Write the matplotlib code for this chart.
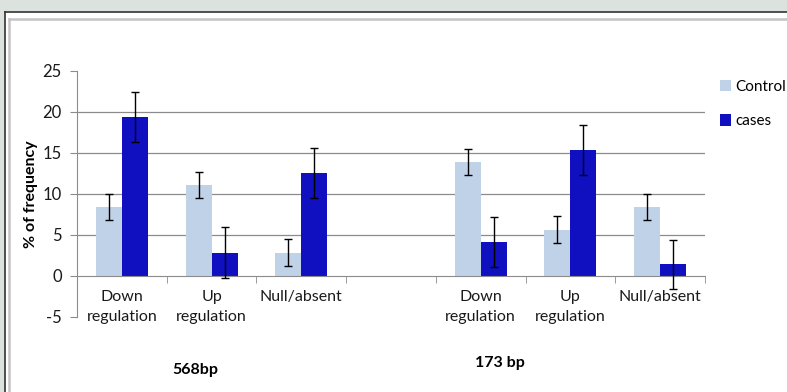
import numpy as np
import matplotlib.pyplot as plt
from matplotlib.patches import Rectangle
from matplotlib.lines import Line2D

plt.rcParams['font.family'] = ['Lato', 'DejaVu Sans']
plt.rcParams['axes.unicode_minus'] = False

# categories (slot 3 left empty between the two fragments)
categories = ["Down\nregulation", "Up\nregulation", "Null/absent", "",
              "Down\nregulation", "Up\nregulation", "Null/absent"]
control = [8.4, 11.1, 2.8, np.nan, 13.9, 5.6, 8.4]
control_err = [1.6, 1.6, 1.65, np.nan, 1.6, 1.65, 1.6]
cases = [19.4, 2.8, 12.5, np.nan, 4.1, 15.3, 1.4]
cases_err = [3.05, 3.1, 3.05, np.nan, 3.05, 3.05, 3.0]
group_labels = ["568bp", "173 bp"]

W, H = 787, 392
fig = plt.figure(figsize=(W / 100, H / 100), dpi=100)
fig.patch.set_facecolor("#dce3df")

# white panel with frame lines on top/left
fig.add_artist(Rectangle((5 / W, 0), 1, 1 - 12 / H, transform=fig.transFigure,
                         facecolor="white", edgecolor="none", zorder=0))
fig.add_artist(Line2D([5 / W, 1], [1 - 12 / H, 1 - 12 / H], color="#333333", lw=1.2, transform=fig.transFigure))
fig.add_artist(Line2D([5 / W, 5 / W], [0, 1 - 12 / H], color="#333333", lw=1.2, transform=fig.transFigure))
fig.add_artist(Line2D([9 / W, 1], [1 - 18.5 / H, 1 - 18.5 / H], color="#c4c4c4", lw=1.8, transform=fig.transFigure))
fig.add_artist(Line2D([9 / W, 9 / W], [0, 1 - 18.5 / H], color="#c4c4c4", lw=1.8, transform=fig.transFigure))

ax = fig.add_axes([77 / W, 1 - 316.7 / H, 628 / W, 246 / H])
ax.set_facecolor("none")

x = np.arange(len(categories))
w = 0.29
ax.bar(x - w / 2, control, w, color="#c0d2e8", label="Control", zorder=2)
ax.bar(x + w / 2, cases, w, color="#1010c0", label="cases", zorder=2)
ax.errorbar(x - w / 2, control, yerr=control_err, fmt="none", ecolor="black",
            elinewidth=1, capsize=3, capthick=1, zorder=3)
ax.errorbar(x + w / 2, cases, yerr=cases_err, fmt="none", ecolor="black",
            elinewidth=1, capsize=3, capthick=1, zorder=3)

ax.set_xlim(-0.5, len(categories) - 0.5)
ax.set_ylim(-5, 25)
ax.set_yticks([-5, 0, 5, 10, 15, 20, 25])
for yv in [5, 10, 15, 20]:
    ax.axhline(yv, color="#8c8c8c", lw=0.9, zorder=1)

for s in ["top", "right"]:
    ax.spines[s].set_visible(False)
ax.spines["left"].set_color("#8c8c8c")
ax.spines["bottom"].set_color("#8c8c8c")
ax.spines["bottom"].set_position(("data", 0))

ax.set_xticks(x)
ax.set_xticklabels(categories, fontsize=11.5, color="#1a1a1a", linespacing=1.55)
ax.set_xticks(np.arange(len(categories)) + 0.5, minor=True)
ax.tick_params(axis="x", which="major", length=0, pad=10)
ax.tick_params(axis="x", which="minor", length=5, color="#8c8c8c", direction="out")
ax.tick_params(axis="y", length=5, color="#8c8c8c", labelsize=12, labelcolor="#1a1a1a", pad=6)

ax.set_ylabel("% of frequency", fontsize=11.5, fontweight="bold", labelpad=3)

fig.text(195 / W, 1 - 370 / H, group_labels[0], ha="center", va="center",
         fontsize=11.5, fontweight="bold")
fig.text(500 / W, 1 - 363 / H, group_labels[1], ha="center", va="center",
         fontsize=11.5, fontweight="bold")

fig.legend(loc="upper left", bbox_to_anchor=(712 / W, 1 - 72 / H), frameon=False,
           fontsize=11, handlelength=0.75, handleheight=0.75, handletextpad=0.25,
           labelspacing=1.35, borderpad=0)

fig.savefig("out.png", dpi=100, facecolor=fig.get_facecolor())
